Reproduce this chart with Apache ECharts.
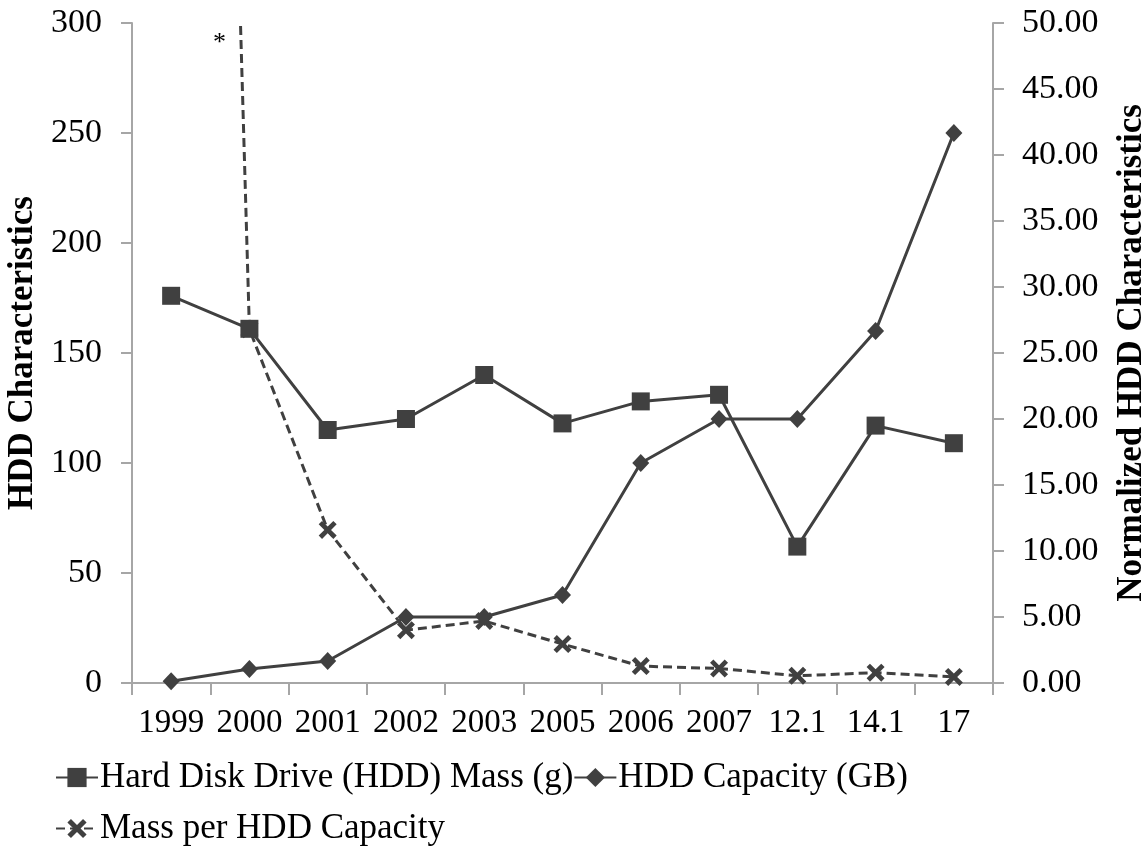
<!DOCTYPE html>
<html>
<head>
<meta charset="utf-8">
<script src="https://cdn.jsdelivr.net/npm/echarts@6/dist/echarts.min.js"></script>
<style>
html,body{margin:0;padding:0;background:#fff;}
#chart{width:1146px;height:846px;}
</style>
</head>
<body>
<div id="chart"></div>
<script>
const categories = ['1999','2000','2001','2002','2003','2005','2006','2007','12.1','14.1','17'];
const massG = [176,161,115,120,140,118,128,131,62,117,109];
const capacityGB = [0.8,6.4,10,30,30,40,100,120,120,160,250];
const massPerCapacity = [230,26.8,11.6,4.0,4.7,2.95,1.28,1.1,0.55,0.78,0.46];
const leftTicks = {min:0, max:300, interval:50};
const rightTicks = {min:0, max:50, interval:5};

const FONT = '"Liberation Serif", "Times New Roman", serif';
const DARK = '#404040';
const AXIS = '#a6a6a6';
const XPATH = 'path://M0,2.6 L2.6,0 L7,4.4 L11.4,0 L14,2.6 L9.6,7 L14,11.4 L11.4,14 L7,9.6 L2.6,14 L0,11.4 L4.4,7 Z';

const chart = echarts.init(document.getElementById('chart'), null, {renderer:'canvas'});
chart.setOption({
  backgroundColor:'#fff',
  animation:false,
  textStyle:{fontFamily:FONT, color:'#000'},
  grid:{left:132, right:153, top:23, bottom:163, containLabel:false, outerBoundsMode:'none'},
  legend:[
    {
      data:['Hard Disk Drive (HDD) Mass (g)','HDD Capacity (GB)'],
      left:50, top:755, orient:'horizontal',
      itemWidth:42, itemHeight:24, itemGap:0,
      textStyle:{fontFamily:FONT, fontSize:35, color:'#000', padding:[0,0,0,-3]}
    },
    {
      data:['Mass per HDD Capacity'],
      left:50, top:806, orient:'horizontal',
      itemWidth:42, itemHeight:24, itemGap:0,
      textStyle:{fontFamily:FONT, fontSize:35, color:'#000', padding:[0,0,0,-3]}
    }
  ],
  xAxis:{
    type:'category', data:categories, boundaryGap:true,
    axisLine:{lineStyle:{color:AXIS, width:2}},
    axisTick:{show:true, length:12, lineStyle:{color:AXIS, width:2}},
    axisLabel:{fontFamily:FONT, fontSize:33, color:'#000', margin:24, interval:0},
    splitLine:{show:false}
  },
  yAxis:[
    {
      type:'value', min:leftTicks.min, max:leftTicks.max, interval:leftTicks.interval,
      name:'HDD Characteristics', nameLocation:'middle', nameGap:90,
      nameTextStyle:{fontFamily:FONT, fontSize:35, fontWeight:'bold', color:'#000'},
      axisLine:{show:true, lineStyle:{color:AXIS, width:2}},
      axisTick:{show:true, length:11, lineStyle:{color:AXIS, width:2}},
      axisLabel:{fontFamily:FONT, fontSize:34, color:'#000', margin:30},
      splitLine:{show:false}
    },
    {
      type:'value', min:rightTicks.min, max:rightTicks.max, interval:rightTicks.interval,
      position:'right',
      name:'Normalized HDD Characteristics', nameLocation:'middle', nameGap:121, nameRotate:90,
      nameTextStyle:{fontFamily:FONT, fontSize:35, fontWeight:'bold', color:'#000'},
      axisLine:{show:true, lineStyle:{color:AXIS, width:2}},
      axisTick:{show:true, length:11, lineStyle:{color:AXIS, width:2}},
      axisLabel:{fontFamily:FONT, fontSize:34, color:'#000', margin:29,
        formatter:function(v){return v.toFixed(2);}},
      splitLine:{show:false}
    }
  ],
  series:[
    {
      name:'Hard Disk Drive (HDD) Mass (g)', type:'line', yAxisIndex:0, data:massG,
      symbol:'rect', symbolSize:18, showAllSymbol:true,
      lineStyle:{color:DARK, width:3}, itemStyle:{color:DARK}, z:3
    },
    {
      name:'HDD Capacity (GB)', type:'line', yAxisIndex:0, data:capacityGB,
      symbol:'diamond', symbolSize:[17,18], showAllSymbol:true,
      lineStyle:{color:DARK, width:3}, itemStyle:{color:DARK}, z:3
    },
    {
      name:'Mass per HDD Capacity', type:'line', yAxisIndex:1, data:massPerCapacity,
      symbol:XPATH, symbolSize:18, showAllSymbol:true, clip:true,
      lineStyle:{color:DARK, width:3, type:[9,5]}, itemStyle:{color:DARK}, z:2
    }
  ],
  graphic:[
    {type:'text', left:213, top:30, style:{text:'*', fontFamily:FONT, fontSize:26, fill:'#000'}}
  ]
});
</script>
</body>
</html>
